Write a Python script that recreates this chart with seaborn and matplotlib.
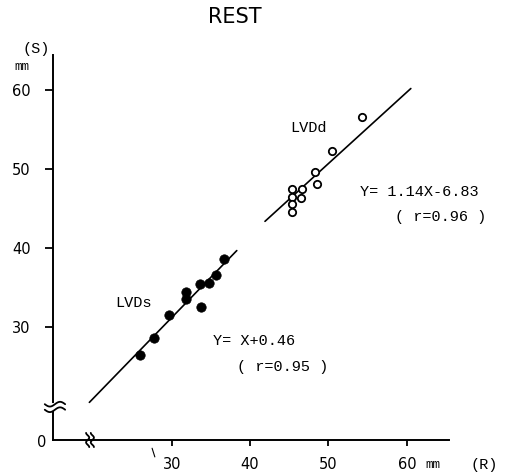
import numpy as np
import pandas as pd
import seaborn as sns
import matplotlib.pyplot as plt

# ------------------------------------------------------------------
# Data (R on x, S on y, both in mm)
# ------------------------------------------------------------------
# LVDs - filled dots
lvds_r = [25.9, 27.8, 29.7, 31.8, 31.8, 33.7, 33.6, 34.7, 35.7, 36.7]
lvds_s = [26.5, 28.6, 31.5, 34.5, 33.6, 32.6, 35.5, 35.6, 36.6, 38.6]

# LVDd - open circles
lvdd_r = [54.3, 50.4, 48.3, 48.5, 46.6, 46.5, 45.4, 45.3, 45.3, 45.3]
lvdd_s = [56.6, 52.3, 49.6, 48.1, 47.5, 46.4, 47.5, 46.5, 45.6, 44.6]

# regression lines as drawn (end points)
fit_s_r = [19.5, 38.3]
fit_s_s = [20.5, 39.7]
fit_d_r = [41.9, 60.5]
fit_d_s = [43.4, 60.2]

ticks = [30, 40, 50, 60]
tick_labels = ['30', '40', '50', '60']

lvds = pd.DataFrame({'R': lvds_r, 'S': lvds_s})
lvdd = pd.DataFrame({'R': lvdd_r, 'S': lvdd_s})
fit_s = pd.DataFrame({'R': fit_s_r, 'S': fit_s_s})
fit_d = pd.DataFrame({'R': fit_d_r, 'S': fit_d_s})

# ------------------------------------------------------------------
# Plot
# ------------------------------------------------------------------
sns.set_style('ticks')
plt.rcParams['font.family'] = ['DejaVu Sans']
plt.rcParams['text.color'] = 'black'

fig = plt.figure(figsize=(5.05, 4.73), dpi=100)
ax = fig.add_axes([53 / 505, 1 - 440 / 473, 396 / 505, 385 / 473])

x0, x1 = 14.86, 65.37
y0, y1 = 15.74, 64.44
ax.set_xlim(x0, x1)
ax.set_ylim(y0, y1)

sns.lineplot(data=fit_s, x='R', y='S', sort=False, estimator=None, color='black', lw=1.2, ax=ax)
sns.lineplot(data=fit_d, x='R', y='S', sort=False, estimator=None, color='black', lw=1.2, ax=ax)
sns.scatterplot(data=lvds, x='R', y='S', color='black', s=46, edgecolor='black', linewidth=0.5, ax=ax, zorder=3)
sns.scatterplot(data=lvdd, x='R', y='S', facecolor='white', edgecolor='black', s=28, linewidth=1.3, ax=ax, zorder=3)

sns.despine(ax=ax)
for sp in ['left', 'bottom']:
    ax.spines[sp].set_linewidth(1.4)
    ax.spines[sp].set_color('black')

ax.set_xticks(ticks)
ax.set_xticklabels(tick_labels)
ax.set_yticks(ticks)
ax.set_yticklabels(tick_labels)
ax.tick_params(axis='x', direction='out', length=4, width=1.3, pad=8, labelsize=10.5, colors='black')
ax.tick_params(axis='y', direction='out', length=6, width=1.3, pad=10, labelsize=10.5, colors='black')
ax.set_xlabel('')
ax.set_ylabel('')

# axis breaks
mono = 'Liberation Mono'
t = np.linspace(-1, 1, 40)
yb = 19.92
wx = 1.3 * t
for dy in (-0.35, 0.35):
    ax.plot(x0 + wx + 0.25, yb + dy + 0.3 * np.sin(np.pi * t), color='black', lw=1.3, clip_on=False, zorder=4)
ax.plot([x0, x0], [yb - 0.25, yb + 0.25], color='white', lw=3, clip_on=False, zorder=3.5)

xb = 19.58
hy = 0.9 * t
for dx in (-0.3, 0.3):
    ax.plot(xb + dx + 0.2 * np.sin(np.pi * t * 1.5), y0 + hy, color='black', lw=1.3, clip_on=False, zorder=4)

# small stray tick near 30
ax.plot([27.5, 27.85], [14.7, 13.6], color='black', lw=0.8, clip_on=False)

# annotations
ax.text(45.1, 55.2, 'LVDd', family=mono, fontsize=11, ha='left', va='center')
ax.text(54.0, 47.15, 'Y= 1.14X-6.83', family=mono, fontsize=11, ha='left', va='center')
ax.text(58.5, 44.0, '( r=0.96 )', family=mono, fontsize=11, ha='left', va='center')
ax.text(22.8, 33.1, 'LVDs', family=mono, fontsize=11, ha='left', va='center')
ax.text(35.3, 28.2, 'Y= X+0.46', family=mono, fontsize=11, ha='left', va='center')
ax.text(38.3, 25.0, '( r=0.95 )', family=mono, fontsize=11, ha='left', va='center')

# axis captions
fig.text(235 / 505, 1 - 17 / 473, 'REST', fontsize=15, ha='center', va='center')
fig.text(36 / 505, 1 - 49 / 473, '(S)', family=mono, fontsize=11, ha='center', va='center')
fig.text(22 / 505, 1 - 67 / 473, 'mm', family=mono, fontsize=9, ha='center', va='center')
fig.text(42 / 505, 1 - 442 / 473, '0', fontsize=10.5, ha='center', va='center')
fig.text(433 / 505, 1 - 465 / 473, 'mm', family=mono, fontsize=9, ha='center', va='center')
fig.text(484 / 505, 1 - 465 / 473, '(R)', family=mono, fontsize=11, ha='center', va='center')

fig.savefig('out.png', dpi=100)
